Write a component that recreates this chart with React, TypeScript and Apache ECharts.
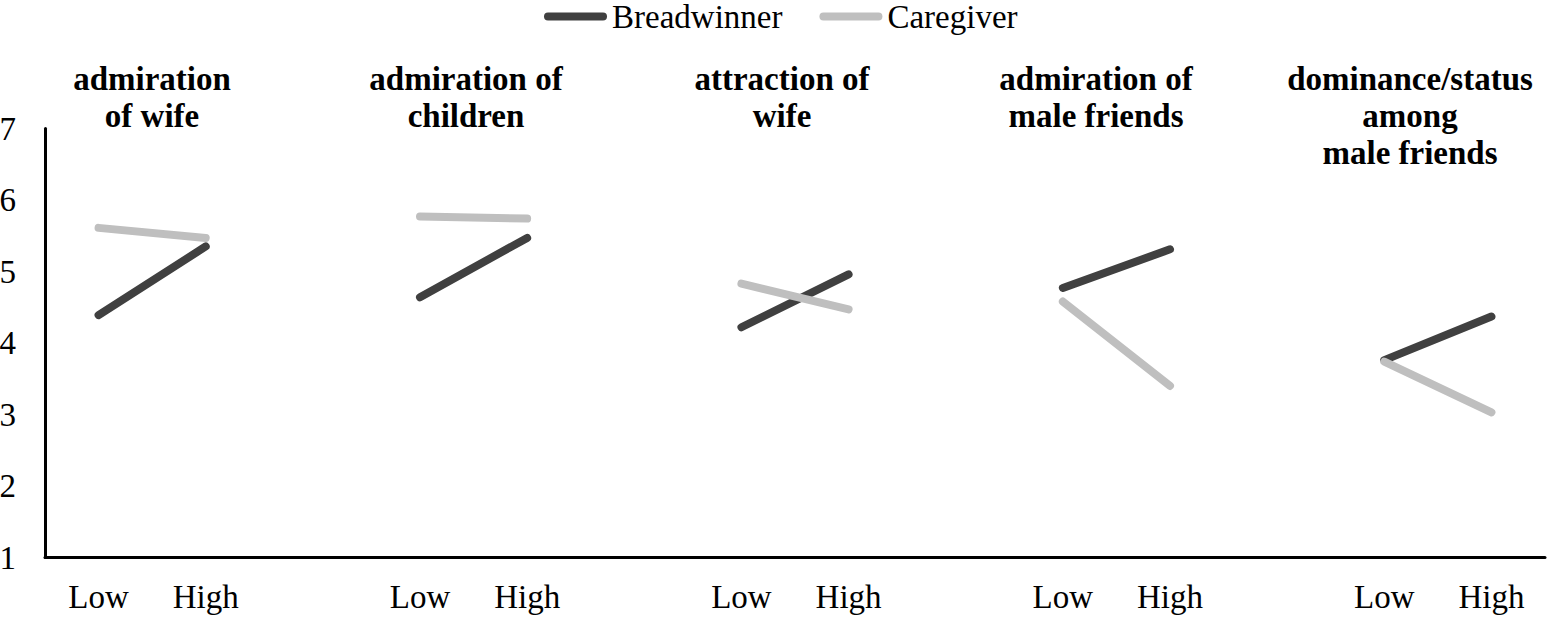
import React, { useEffect, useRef } from "react";
import * as echarts from "echarts";

const categories = ["Low", "High", "", "Low", "High", "", "Low", "High", "", "Low", "High", "", "Low", "High"];
const breadwinner = [4.39, 5.35, null, 4.64, 5.47, null, 4.22, 4.96, null, 4.77, 5.31, null, 3.76, 4.37];
const caregiver = [5.61, 5.47, null, 5.77, 5.74, null, 4.83, 4.47, null, 4.58, 3.4, null, 3.74, 3.03];
const panelTitles = [
  "admiration\nof wife",
  "admiration of\nchildren",
  "attraction of\nwife",
  "admiration of\nmale friends",
  "dominance/status\namong\nmale friends",
];
const seriesNames = ["Breadwinner", "Caregiver"];
const yTicks = [1, 2, 3, 4, 5, 6, 7];

const SERIF = "Liberation Serif";
const FS = 33;
const titleX = [152, 466, 782, 1096, 1410];

export default function App() {
  const ref = useRef<HTMLDivElement>(null);
  useEffect(() => {
    if (!ref.current) return;
    const chart = echarts.init(ref.current, undefined, { renderer: "svg" });
    const lineIcon = "path://M4,0 L59,0 A4,4 0 0 1 59,8 L4,8 A4,4 0 0 1 4,0 Z";
    chart.setOption({
      animation: false,
      backgroundColor: "#ffffff",
      textStyle: { fontFamily: SERIF },
      title: panelTitles.map((t, i) => ({
        text: t,
        left: titleX[i],
        top: 60,
        padding: 0,
        textAlign: "center",
        textStyle: {
          fontFamily: SERIF,
          fontWeight: "bold",
          fontSize: FS,
          lineHeight: 37,
          color: "#000",
        },
      })),
      legend: {
        data: seriesNames,
        top: 0,
        left: 544,
        padding: 0,
        itemWidth: 63,
        itemHeight: 8,
        itemGap: 37,
        icon: lineIcon,
        textStyle: { fontSize: FS, color: "#000", fontFamily: SERIF },
      },
      grid: {
        left: 45,
        right: 2,
        top: 128.5,
        bottom: 61.5,
        containLabel: false,
        outerBoundsMode: "none",
      },
      xAxis: {
        type: "category",
        data: categories,
        boundaryGap: true,
        axisLine: { show: true, lineStyle: { color: "#000", width: 3 } },
        axisTick: { show: false },
        axisLabel: {
          interval: 0,
          margin: 23,
          fontSize: FS,
          color: "#000",
          fontFamily: SERIF,
        },
        splitLine: { show: false },
      },
      yAxis: {
        type: "value",
        min: yTicks[0],
        max: yTicks[yTicks.length - 1],
        interval: 1,
        axisLine: { show: true, lineStyle: { color: "#000", width: 3 } },
        axisTick: { show: false },
        axisLabel: {
          margin: 29,
          fontSize: FS,
          color: "#000",
          fontFamily: SERIF,
        },
        splitLine: { show: false },
      },
      series: [
        {
          name: seriesNames[0],
          type: "line",
          data: breadwinner,
          showSymbol: false,
          connectNulls: false,
          itemStyle: { color: "#404040" },
          lineStyle: { color: "#404040", width: 8, cap: "round" },
          z: 2,
        },
        {
          name: seriesNames[1],
          type: "line",
          data: caregiver,
          showSymbol: false,
          connectNulls: false,
          itemStyle: { color: "#bfbfbf" },
          lineStyle: { color: "#bfbfbf", width: 8, cap: "round" },
          z: 3,
        },
      ],
    });
    return () => chart.dispose();
  }, []);
  return (
    <div
      ref={ref}
      style={{ position: "absolute", left: 0, top: 0, width: 1547, height: 619, background: "#fff" }}
    />
  );
}
